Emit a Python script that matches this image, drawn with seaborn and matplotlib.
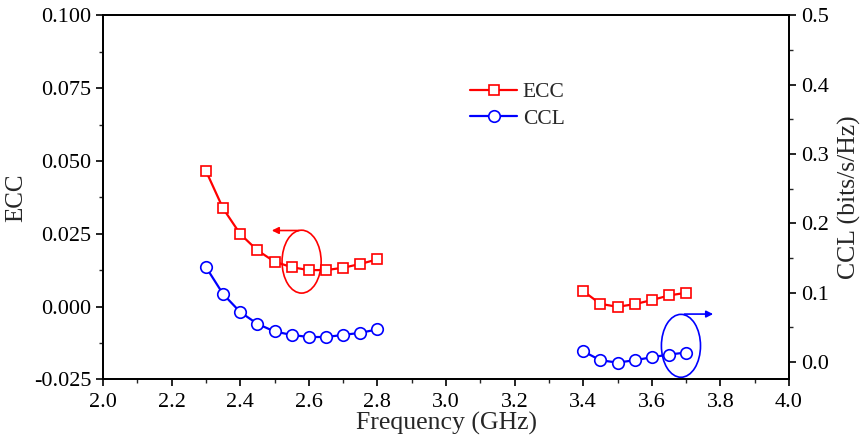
import numpy as np
import pandas as pd
import matplotlib
matplotlib.use("Agg")
import matplotlib.pyplot as plt
from matplotlib.patches import Ellipse
from matplotlib.ticker import MultipleLocator
import seaborn as sns

# ---- data ----
freq_low = [2.30, 2.35, 2.40, 2.45, 2.50, 2.55, 2.60, 2.65, 2.70, 2.75, 2.80]
freq_high = [3.40, 3.45, 3.50, 3.55, 3.60, 3.65, 3.70]
ecc_low = [0.0466, 0.0337, 0.0249, 0.0193, 0.0154, 0.0135, 0.0125, 0.0125, 0.0133, 0.0146, 0.0162]
ecc_high = [0.0053, 0.0009, -0.0001, 0.0008, 0.0022, 0.0038, 0.0047]
ccl_low = [0.137, 0.098, 0.072, 0.055, 0.044, 0.039, 0.036, 0.036, 0.039, 0.042, 0.047]
ccl_high = [0.0154, 0.0025, -0.0009, 0.0025, 0.0068, 0.0107, 0.0136]

df_ecc = pd.DataFrame({
    "freq": freq_low + freq_high,
    "val": ecc_low + ecc_high,
    "band": ["low"] * len(freq_low) + ["high"] * len(freq_high),
})
df_ccl = pd.DataFrame({
    "freq": freq_low + freq_high,
    "val": ccl_low + ccl_high,
    "band": ["low"] * len(freq_low) + ["high"] * len(freq_high),
})

sns.set_style("ticks")
plt.rcParams["font.family"] = ["Liberation Serif", "DejaVu Serif"]
plt.rcParams["mathtext.fontset"] = "stix"

fig = plt.figure(figsize=(8.63, 4.43), dpi=100)
ax = fig.add_axes([103 / 863, 1 - 379.3 / 443, (789 - 103) / 863, (379.3 - 15.3) / 443])
ax2 = ax.twinx()

RED = "#ff0000"
BLUE = "#0000ff"

sns.lineplot(data=df_ecc, x="freq", y="val", units="band", estimator=None, sort=False,
             color=RED, lw=1.6, marker="s", markersize=6.8, markerfacecolor="white",
             markeredgecolor=RED, markeredgewidth=1.2, ax=ax)
sns.lineplot(data=df_ccl, x="freq", y="val", units="band", estimator=None, sort=False,
             color=BLUE, lw=1.6, marker="o", markersize=8.3, markerfacecolor="white",
             markeredgecolor=BLUE, markeredgewidth=1.2, ax=ax2)

ax.set_xlim(2.0, 4.0)
ax.set_ylim(-0.025, 0.100)
ax2.set_ylim(-0.025, 0.5)

ax.xaxis.set_major_locator(MultipleLocator(0.2))
ax.xaxis.set_minor_locator(MultipleLocator(0.1))
ax.yaxis.set_major_locator(MultipleLocator(0.025))
ax.yaxis.set_minor_locator(MultipleLocator(0.0125))
ax2.yaxis.set_major_locator(MultipleLocator(0.1))
ax2.yaxis.set_minor_locator(MultipleLocator(0.05))
ax.xaxis.set_major_formatter(matplotlib.ticker.FormatStrFormatter("%.1f"))
ax.yaxis.set_major_formatter(matplotlib.ticker.FormatStrFormatter("%.3f"))
ax2.yaxis.set_major_formatter(matplotlib.ticker.FormatStrFormatter("%.1f"))

for a in (ax, ax2):
    for s in a.spines.values():
        s.set_linewidth(1.3)
        s.set_color("black")
    a.tick_params(which="major", direction="out", length=5, width=1.2, labelsize=16, colors="black")
    a.tick_params(which="minor", direction="out", length=3, width=1.0)
ax.tick_params(axis="x", which="both", top=False)
ax.tick_params(axis="x", which="major", pad=5)
ax.tick_params(axis="y", which="both", right=False)
ax2.tick_params(axis="y", which="both", left=False, right=True)

ax.set_xlabel("Frequency (GHz)", fontsize=18.5, labelpad=0)
ax.set_ylabel("ECC", fontsize=18, labelpad=5)
ax2.set_ylabel("CCL (bits/s/Hz)", fontsize=18.5, labelpad=7)

# annotation ellipses and arrows
ax.add_patch(Ellipse((2.579, 0.0154), 0.114, 0.0216, fill=False, ec=RED, lw=1.2))
ax.annotate("", xy=(2.484, 0.0261), xytext=(2.579, 0.0261),
            arrowprops=dict(arrowstyle="-|>", color=RED, lw=1.2, mutation_scale=10))
ax.add_patch(Ellipse((3.685, -0.0135), 0.114, 0.0216, fill=False, ec=BLUE, lw=1.2))
ax.annotate("", xy=(3.787, -0.0026), xytext=(3.687, -0.0026),
            arrowprops=dict(arrowstyle="-|>", color=BLUE, lw=1.2, mutation_scale=10))

# legend
h1 = plt.Line2D([], [], color=RED, lw=1.6, marker="s", markersize=6.8,
                markerfacecolor="white", markeredgecolor=RED, markeredgewidth=1.2)
h2 = plt.Line2D([], [], color=BLUE, lw=1.6, marker="o", markersize=8.3,
                markerfacecolor="white", markeredgecolor=BLUE, markeredgewidth=1.2)
if ax.get_legend():
    ax.get_legend().remove()
if ax2.get_legend():
    ax2.get_legend().remove()
fig.legend([h1, h2], ["ECC", "CCL"], loc="upper left",
           bbox_to_anchor=(470 / 863, 1 - 82 / 443), frameon=False, fontsize=15.5,
           handlelength=2.2, handletextpad=0.25, labelspacing=0.3, borderpad=0, borderaxespad=0)

fig.savefig("out.png", dpi=100)
